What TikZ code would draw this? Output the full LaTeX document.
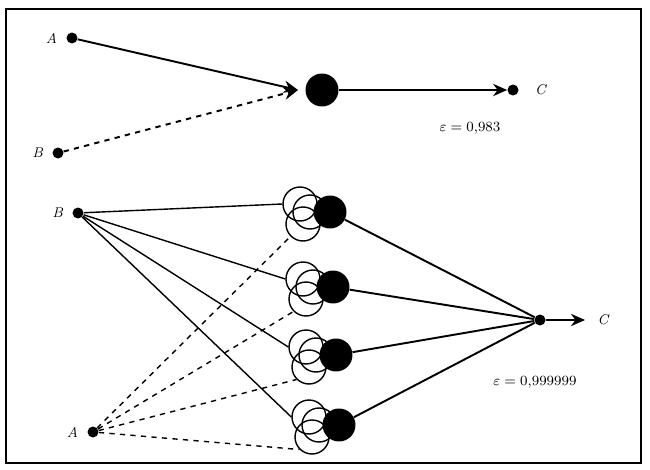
\documentclass[tikz,border=0pt]{standalone}
\usetikzlibrary{positioning}
\usetikzlibrary{arrows.meta}
\begin{document}
\begin{tikzpicture}[
    x=0.02cm, y=-0.02cm,
    font=\footnotesize,
    dot/.style={circle, fill=black, inner sep=0pt, minimum size=0.22cm},
    cell/.style={circle, fill=black, inner sep=0pt, minimum size=0.66cm},
    ring/.style={circle, draw, thick, inner sep=0pt, minimum size=0.68cm},
    arr/.style={-{Stealth[length=8pt, width=7pt]}, line width=1.1pt},
    lbl/.style={font=\footnotesize\itshape, inner sep=1pt}
]
\useasboundingbox (0,0) rectangle (650,470);
\draw[line width=1.5pt] (6,9) rectangle (641,463);

% single cell
\node[dot] (a1) at (72,38) {};
\node[lbl, left=4pt of a1] {A};
\node[dot] (b1) at (58,153) {};
\node[lbl, left=4pt of b1] {B};
\coordinate (m1) at (298,90);
\node[cell] (s1) at (322,90) {};
\node[dot] (c1) at (513,90) {};
\node[lbl, right=8pt of c1] {C};
\draw[arr] (a1) -- (m1);
\draw[arr, dashed] (b1) -- (m1);
\draw[arr] (s1) -- (c1);
\node[lbl] (e1) at (470,128) {$\varepsilon = 0{,}983$};

% four cells
\node[dot] (b2) at (78,213) {};
\node[lbl, left=4pt of b2] {B};
\node[dot] (a2) at (93,432) {};
\node[lbl, left=4pt of a2] {A};
\node[dot] (c2) at (540,320) {};
\coordinate (c2end) at (585,320);
\node[lbl, right=6pt of c2end] {C};
\draw[arr] (c2) -- (c2end);

\foreach \i/\x/\y in {1/330/212, 2/333/287, 3/336/355, 4/339/425} {
    \node[ring] (r\i) at (\x-30,\y-8) {};
    \node[ring] (p\i) at (\x-20,\y) {};
    \node[ring] (q\i) at (\x-27,\y+12) {};
    \node[cell] (s\i) at (\x,\y) {};
    \draw[thick] (b2) -- (r\i.west);
    \draw[thick, dashed] (a2) -- (q\i.south west);
    \draw[line width=1.1pt] (s\i) -- (c2);
}
\node[lbl] (e2) at (535,382) {$\varepsilon = 0{,}999999$};
\end{tikzpicture}
\end{document}
